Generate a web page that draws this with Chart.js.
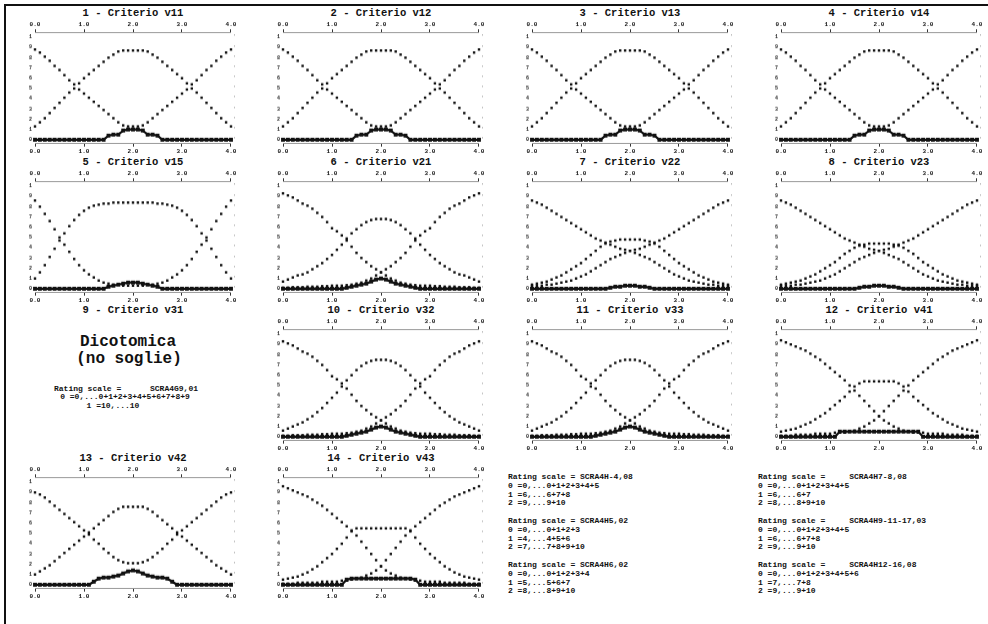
<!DOCTYPE html>
<html><head><meta charset="utf-8">
<script src="https://cdn.jsdelivr.net/npm/chart.js@4.4.1/dist/chart.umd.min.js"></script>
<style>
html,body{margin:0;padding:0;background:#fff;}
#page{position:relative;width:988px;height:624px;overflow:hidden;background:#fff;}
.frame{position:absolute;left:4px;top:4px;width:990px;height:630px;border-left:2px solid #111;border-top:2px solid #111;}
.title{position:absolute;font-family:"Liberation Mono",monospace;font-weight:bold;font-size:10.5px;color:#111;white-space:pre;transform:translate(-50%,-50%);}
.big{position:absolute;font-family:"Liberation Mono",monospace;font-weight:bold;font-size:16px;color:#111;white-space:pre;transform:translate(-50%,-50%);}
.small{position:absolute;font-family:"Liberation Mono",monospace;font-weight:bold;font-size:8px;line-height:8.7px;color:#111;white-space:pre;}
canvas{position:absolute;}
</style></head>
<body><div id="page"><div class="frame"></div></div>
<script>
// ---------- data ----------
const XS = [0.0,0.1,0.2,0.3,0.4,0.5,0.6,0.7,0.8,0.9,1.0,1.1,1.2,1.3,1.4,1.5,1.6,1.7,1.8,1.9,2.0,2.1,2.2,2.3,2.4,2.5,2.6,2.7,2.8,2.9,3.0,3.1,3.2,3.3,3.4,3.5,3.6,3.7,3.8,3.9,4.0];
const X_TICK_LABELS = ['0.0','1.0','2.0','3.0','4.0'];
const Y_TICK_LABELS = ['0','1','2','3','4','5','6','7','8','9','1'];

// type A (panels 1-4): U, inverted U, baseline
const U_A   = [0.88,0.85,0.81,0.77,0.72,0.68,0.63,0.58,0.54,0.49,0.45,0.41,0.37,0.33,0.29,0.25,0.21,0.17,0.14,0.13,0.13,0.13,0.14,0.17,0.21,0.25,0.29,0.33,0.37,0.41,0.45,0.49,0.54,0.58,0.63,0.68,0.72,0.77,0.81,0.85,0.88];
const INV_A = [0.13,0.17,0.21,0.26,0.31,0.36,0.41,0.46,0.50,0.55,0.60,0.64,0.68,0.72,0.76,0.80,0.83,0.86,0.87,0.87,0.87,0.87,0.87,0.86,0.83,0.80,0.76,0.72,0.68,0.64,0.60,0.55,0.50,0.46,0.41,0.36,0.31,0.26,0.21,0.17,0.13];
const BASE_A= [0,0,0,0,0,0,0,0,0,0,0,0,0,0,0,0.04,0.05,0.05,0.09,0.10,0.10,0.10,0.09,0.05,0.05,0.04,0,0,0,0,0,0,0,0,0,0,0,0,0,0,0];

// panel 5
const U_5   = [0.86,0.80,0.73,0.66,0.58,0.50,0.43,0.36,0.29,0.23,0.18,0.14,0.11,0.08,0.06,0.05,0.04,0.04,0.03,0.03,0.03,0.03,0.03,0.04,0.04,0.05,0.06,0.08,0.11,0.14,0.18,0.23,0.29,0.36,0.43,0.50,0.58,0.66,0.73,0.80,0.86];
const INV_5 = [0.10,0.16,0.23,0.31,0.39,0.47,0.54,0.61,0.67,0.72,0.76,0.79,0.81,0.82,0.83,0.83,0.84,0.84,0.84,0.84,0.84,0.84,0.84,0.84,0.84,0.83,0.83,0.82,0.81,0.79,0.76,0.72,0.67,0.61,0.54,0.47,0.39,0.31,0.23,0.16,0.10];
const BASE_5= [0,0,0,0,0,0,0,0,0,0,0,0,0,0,0,0.02,0.03,0.04,0.05,0.06,0.06,0.06,0.05,0.04,0.03,0.02,0,0,0,0,0,0,0,0,0,0,0,0,0,0,0];

// panel 13
const U_13   = [0.90,0.88,0.85,0.81,0.77,0.73,0.69,0.65,0.61,0.57,0.53,0.49,0.44,0.40,0.35,0.31,0.27,0.24,0.22,0.21,0.21,0.21,0.22,0.24,0.27,0.31,0.35,0.40,0.44,0.49,0.53,0.57,0.61,0.65,0.69,0.73,0.77,0.81,0.85,0.88,0.90];
const INV_13 = [0.10,0.13,0.16,0.19,0.23,0.27,0.31,0.35,0.39,0.43,0.47,0.51,0.55,0.59,0.63,0.67,0.71,0.74,0.76,0.76,0.76,0.76,0.76,0.74,0.71,0.67,0.63,0.59,0.55,0.51,0.47,0.43,0.39,0.35,0.31,0.27,0.23,0.19,0.16,0.13,0.10];
const BASE_13= [0,0,0,0,0,0,0,0,0,0,0,0,0.03,0.06,0.07,0.07,0.08,0.09,0.11,0.13,0.14,0.13,0.11,0.09,0.08,0.07,0.07,0.06,0.03,0,0,0,0,0,0,0,0,0,0,0,0];

// type B (panels 6,10,11): descending, ascending, hump, baseline
const DESC_B = [0.93,0.91,0.89,0.86,0.83,0.81,0.78,0.74,0.70,0.65,0.59,0.56,0.52,0.47,0.41,0.35,0.30,0.26,0.22,0.19,0.16,0.13,0.10,0.08,0.06,0.05,0.04,0.035,0.03,0.03,0.03,0.025,0.025,0.02,0.02,0.02,0.015,0.015,0.015,0.01,0.01];
const ASC_B  = [0.01,0.01,0.015,0.015,0.015,0.02,0.02,0.02,0.025,0.025,0.03,0.03,0.03,0.035,0.04,0.05,0.06,0.08,0.10,0.13,0.16,0.19,0.22,0.26,0.30,0.35,0.41,0.47,0.52,0.56,0.59,0.65,0.70,0.74,0.78,0.81,0.83,0.86,0.89,0.91,0.93];
const HUMP_B = [0.07,0.09,0.11,0.13,0.14,0.16,0.19,0.22,0.25,0.29,0.33,0.38,0.43,0.49,0.54,0.58,0.62,0.65,0.67,0.68,0.68,0.68,0.67,0.65,0.62,0.58,0.54,0.49,0.43,0.38,0.33,0.29,0.25,0.22,0.19,0.16,0.14,0.13,0.11,0.09,0.07];
const HUMP_10= [0.06,0.08,0.10,0.12,0.14,0.17,0.20,0.24,0.28,0.33,0.38,0.43,0.49,0.55,0.60,0.65,0.69,0.72,0.74,0.75,0.75,0.75,0.74,0.72,0.69,0.65,0.60,0.55,0.49,0.43,0.38,0.33,0.28,0.24,0.20,0.17,0.14,0.12,0.10,0.08,0.06];
const BASE_B = [0,0,0,0,0,0,0,0,0,0,0,0,0,0.01,0.02,0.03,0.04,0.05,0.07,0.09,0.10,0.09,0.07,0.05,0.04,0.03,0.02,0.01,0,0,0,0,0,0,0,0,0,0,0,0,0];

// panels 7, 8
const DESC_7 = [0.86,0.84,0.82,0.79,0.76,0.73,0.70,0.67,0.64,0.61,0.58,0.55,0.52,0.49,0.47,0.45,0.43,0.41,0.39,0.38,0.37,0.35,0.33,0.31,0.29,0.26,0.23,0.20,0.17,0.14,0.12,0.10,0.08,0.07,0.06,0.05,0.04,0.04,0.03,0.03,0.03];
const ASC_7  = [0.03,0.03,0.03,0.04,0.04,0.05,0.06,0.07,0.08,0.10,0.12,0.14,0.17,0.20,0.23,0.26,0.29,0.31,0.33,0.35,0.37,0.38,0.39,0.41,0.43,0.45,0.47,0.49,0.52,0.55,0.58,0.61,0.64,0.67,0.70,0.73,0.76,0.79,0.82,0.84,0.86];
const HUMP_7 = [0.04,0.05,0.06,0.07,0.09,0.11,0.13,0.16,0.19,0.22,0.25,0.29,0.33,0.37,0.41,0.44,0.46,0.47,0.48,0.48,0.48,0.48,0.48,0.47,0.46,0.44,0.41,0.37,0.33,0.29,0.25,0.22,0.19,0.16,0.13,0.11,0.09,0.07,0.06,0.05,0.04];
const HUMP_8 = [0.04,0.05,0.06,0.07,0.08,0.10,0.12,0.14,0.17,0.20,0.23,0.26,0.30,0.34,0.37,0.40,0.42,0.43,0.44,0.44,0.44,0.44,0.44,0.43,0.42,0.40,0.37,0.34,0.30,0.26,0.23,0.20,0.17,0.14,0.12,0.10,0.08,0.07,0.06,0.05,0.04];
const BASE_7 = [0,0,0,0,0,0,0,0,0,0,0,0,0,0,0,0,0.01,0.02,0.02,0.03,0.03,0.03,0.02,0.02,0.01,0,0,0,0,0,0,0,0,0,0,0,0,0,0,0,0];

// panel 12
const DESC_12= [0.94,0.92,0.90,0.88,0.86,0.84,0.81,0.78,0.75,0.71,0.67,0.63,0.59,0.55,0.50,0.45,0.40,0.35,0.30,0.25,0.20,0.16,0.13,0.10,0.08,0.06,0.05,0.04,0.04,0.04,0.03,0.03,0.03,0.03,0.02,0.02,0.02,0.02,0.01,0.01,0.01];
const ASC_12 = [0.01,0.01,0.01,0.02,0.02,0.02,0.02,0.03,0.03,0.03,0.03,0.04,0.04,0.04,0.05,0.06,0.08,0.10,0.13,0.16,0.20,0.25,0.30,0.35,0.40,0.45,0.50,0.55,0.59,0.63,0.67,0.71,0.75,0.78,0.81,0.84,0.86,0.88,0.90,0.92,0.94];
const HUMP_12= [0.05,0.06,0.07,0.08,0.10,0.12,0.14,0.17,0.20,0.23,0.27,0.31,0.35,0.39,0.44,0.49,0.52,0.54,0.54,0.54,0.54,0.54,0.54,0.54,0.52,0.49,0.44,0.39,0.35,0.31,0.27,0.23,0.20,0.17,0.14,0.12,0.10,0.08,0.07,0.06,0.05];
const BASE_12= [0,0,0,0,0,0,0,0,0,0,0,0,0.05,0.05,0.05,0.05,0.05,0.05,0.05,0.05,0.05,0.05,0.05,0.05,0.05,0.05,0.05,0.05,0.05,0,0,0,0,0,0,0,0,0,0,0,0];

// panel 14
const DESC_14= [0.96,0.94,0.92,0.90,0.88,0.86,0.83,0.80,0.77,0.73,0.69,0.65,0.61,0.57,0.53,0.48,0.42,0.36,0.30,0.24,0.18,0.14,0.11,0.09,0.07,0.06,0.05,0.04,0.04,0.03,0.03,0.03,0.03,0.02,0.02,0.02,0.02,0.02,0.01,0.01,0.01];
const ASC_14 = [0.01,0.01,0.01,0.02,0.02,0.02,0.02,0.02,0.03,0.03,0.03,0.03,0.04,0.04,0.05,0.06,0.07,0.09,0.11,0.14,0.18,0.24,0.30,0.36,0.42,0.48,0.53,0.57,0.61,0.65,0.69,0.73,0.77,0.80,0.83,0.86,0.88,0.90,0.92,0.94,0.96];
const HUMP_14= [0.05,0.06,0.07,0.08,0.10,0.12,0.15,0.18,0.22,0.26,0.30,0.35,0.40,0.46,0.52,0.55,0.55,0.55,0.55,0.55,0.55,0.55,0.55,0.55,0.55,0.55,0.52,0.46,0.40,0.35,0.30,0.26,0.22,0.18,0.15,0.12,0.10,0.08,0.07,0.06,0.05];
const BASE_14= [0,0,0,0,0,0,0,0,0,0,0,0,0,0.05,0.06,0.06,0.06,0.06,0.06,0.06,0.06,0.06,0.06,0.06,0.06,0.06,0.06,0.05,0,0,0,0,0,0,0,0,0,0,0,0,0];

const TITLES = ['1 - Criterio v11','2 - Criterio v12','3 - Criterio v13','4 - Criterio v14',
  '5 - Criterio v15','6 - Criterio v21','7 - Criterio v22','8 - Criterio v23',
  '9 - Criterio v31','10 - Criterio v32','11 - Criterio v33','12 - Criterio v41',
  '13 - Criterio v42','14 - Criterio v43'];

// ---------- layout ----------
const COL_X = [35, 283, 532, 781];
const ROW_T = [13, 162, 310, 458];
const PLOT_W = 196;
const AREA_TOP = 19, AREA_H = 114;   // chart area relative to title row

const PANELS = [
  {c:0, r:0, pts:[U_A, INV_A], base:BASE_A},
  {c:1, r:0, pts:[U_A, INV_A], base:BASE_A},
  {c:2, r:0, pts:[U_A, INV_A], base:BASE_A},
  {c:3, r:0, pts:[U_A, INV_A], base:BASE_A},
  {c:0, r:1, pts:[U_5, INV_5], base:BASE_5},
  {c:1, r:1, pts:[DESC_B, ASC_B, HUMP_B], base:BASE_B},
  {c:2, r:1, pts:[DESC_7, ASC_7, HUMP_7], base:BASE_7},
  {c:3, r:1, pts:[DESC_7, ASC_7, HUMP_8], base:BASE_7},
  {c:1, r:2, pts:[DESC_B, ASC_B, HUMP_10], base:BASE_B},
  {c:2, r:2, pts:[DESC_B, ASC_B, HUMP_10], base:BASE_B},
  {c:3, r:2, pts:[DESC_12, ASC_12, HUMP_12], base:BASE_12},
  {c:0, r:3, pts:[U_13, INV_13], base:BASE_13},
  {c:1, r:3, pts:[DESC_14, ASC_14, HUMP_14], base:BASE_14},
];

const page = document.getElementById('page');
function addDiv(cls, text, x, y){
  const d = document.createElement('div'); d.className = cls; d.textContent = text;
  d.style.left = x + 'px'; d.style.top = y + 'px'; page.appendChild(d); return d;
}

for (let r = 0; r < 4; r++) for (let c = 0; c < 4; c++) {
  const idx = r*4 + c; if (idx >= TITLES.length) continue;
  addDiv('title', TITLES[idx], COL_X[c] + PLOT_W/2, ROW_T[r]);
}

const xTickFont = {family:'Liberation Mono', size:6, weight:'bold'};
function mkChart(p){
  const cv = document.createElement('canvas');
  cv.width = 220; cv.height = 140;
  page.appendChild(cv);
  const toPts = a => a.map((v,i) => ({x: XS[i], y: v}));
  const ds = p.pts.map(a => ({data: toPts(a), showLine:false, pointStyle:'rect', pointRadius:1.7,
      backgroundColor:'#111', borderWidth:0, clip:false}));
  ds.push({data: toPts(p.base), showLine:true, borderColor:'#111', borderWidth:2.2, pointStyle:'rect',
      pointRadius:1.2, backgroundColor:'#111', tension:0, clip:false});
  const xTicks = {stepSize:1, font:xTickFont, color:'#111', padding:1, maxRotation:0, autoSkip:false,
      callback:(v)=>X_TICK_LABELS[Math.round(v)]};
  const xGrid = {drawOnChartArea:false, drawTicks:true, tickLength:3, color:'#333'};
  const ch = new Chart(cv, {
    type:'scatter',
    data:{datasets:ds},
    options:{
      responsive:false, animation:false, events:[],
      layout:{padding:0},
      plugins:{legend:{display:false}, tooltip:{enabled:false}},
      scales:{
        x:{type:'linear', position:'bottom', min:0, max:4, grid:xGrid,
           border:{display:true, color:'#999', dash:[1,2]}, ticks:xTicks},
        x2:{type:'linear', position:'top', min:0, max:4, display:true, grid:xGrid,
           border:{display:true, color:'#999', dash:[1,2]}, ticks:xTicks},
        y:{type:'linear', position:'left', min:-0.038, max:1.0476,
           grid:{drawOnChartArea:false, drawTicks:false}, border:{display:false},
           ticks:{stepSize:0.1, includeBounds:false, autoSkip:false, padding:3,
             font:{family:'Liberation Mono', size:5, weight:'bold'}, color:'#222',
             callback:(v)=>Y_TICK_LABELS[Math.round(v*10)]}},
        y2:{type:'linear', position:'right', min:-0.038, max:1.0476, display:true,
           grid:{drawOnChartArea:false, drawTicks:false}, border:{display:false},
           ticks:{stepSize:0.1, includeBounds:false, autoSkip:false, padding:2,
             font:{family:'Liberation Mono', size:5}, color:'#777', callback:()=>'\''}}
      }
    }
  });
  // size the canvas so that the plot area has the wanted size, then place it
  let ca = ch.chartArea;
  ch.resize(Math.round(220 + PLOT_W - (ca.right - ca.left)), Math.round(140 + AREA_H - (ca.bottom - ca.top)));
  ca = ch.chartArea;
  cv.style.left = (COL_X[p.c] - ca.left) + 'px';
  cv.style.top = (ROW_T[p.r] + AREA_TOP - ca.top) + 'px';
}
PANELS.forEach(mkChart);

// panel 9 text
addDiv('big', 'Dicotomica', 128, 342);
addDiv('big', '(no soglie)', 129, 359);
const d9a = addDiv('small', 'Rating scale =      SCRA4G9,01', 126, 389); d9a.style.transform='translate(-50%,-50%)';
const d9b = addDiv('small', '0 =0,...0+1+2+3+4+5+6+7+8+9', 125, 397); d9b.style.transform='translate(-50%,-50%)';
const d9c = addDiv('small', '1 =10,...10', 113, 406); d9c.style.transform='translate(-50%,-50%)';

// rating-scale blocks
const BLOCK3 = ['Rating scale = SCRA4H-4,08','0 =0,...0+1+2+3+4+5','1 =6,...6+7+8','2 =9,...9+10','',
  'Rating scale = SCRA4H5,02','0 =0,...0+1+2+3','1 =4,...4+5+6','2 =7,...7+8+9+10','',
  'Rating scale = SCRA4H6,02','0 =0,...0+1+2+3+4','1 =5,...5+6+7','2 =8,...8+9+10'];
const BLOCK4 = ['Rating scale =     SCRA4H7-8,08','0 =0,...0+1+2+3+4+5','1 =6,...6+7','2 =8,...8+9+10','',
  'Rating scale =     SCRA4H9-11-17,03','0 =0,...0+1+2+3+4+5','1 =6,...6+7+8','2 =9,...9+10','',
  'Rating scale =     SCRA4H12-16,08','0 =0,...0+1+2+3+4+5+6','1 =7,...7+8','2 =9,...9+10'];
const b3 = addDiv('small', BLOCK3.join('\n'), 508, 473);
const b4 = addDiv('small', BLOCK4.join('\n'), 758, 473);
[b3,b4].forEach(b=>{b.style.lineHeight='8.8px';});
</script>
</body></html>
